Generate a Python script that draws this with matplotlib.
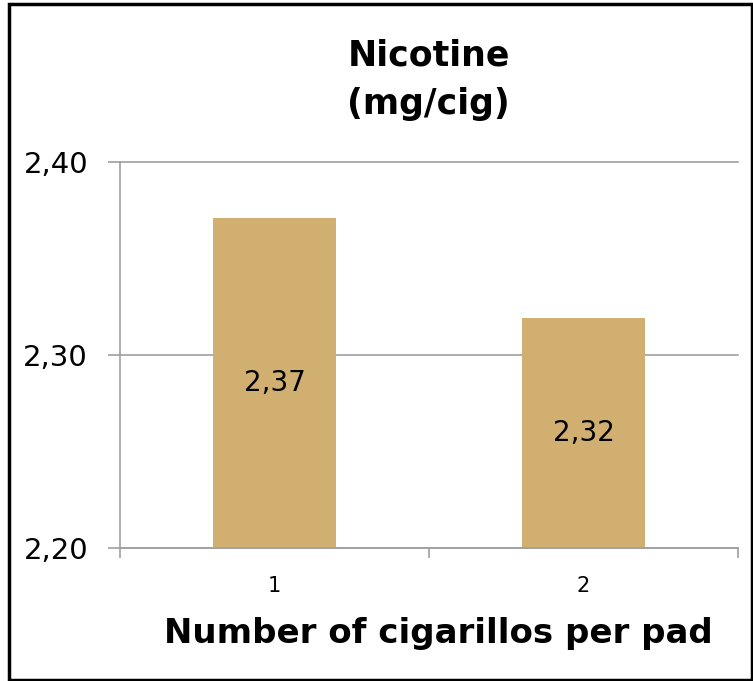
import numpy as np
import matplotlib.pyplot as plt
from matplotlib.patches import Rectangle

# data
categories = ['1', '2']
nicotine = [2.371, 2.319]
value_labels = ['2,37', '2,32']
yticks = [2.20, 2.30, 2.40]
ytick_labels = ['2,20', '2,30', '2,40']

bar_color = '#D0AF70'
grey = '#A0A0A0'

plt.rcParams['font.family'] = ['DejaVu Sans']

fig = plt.figure(figsize=(7.53, 6.81), dpi=100)
ax = fig.add_axes([0.1594, 0.1953, 0.8206, 0.5668])

x = np.arange(1, len(categories) + 1)
ax.bar(x, nicotine, width=0.4, color=bar_color, zorder=2)

# value labels centred in the visible part of each bar
for xi, v, lab in zip(x, nicotine, value_labels):
    ax.text(xi, (v + yticks[0]) / 2, lab, ha='center', va='center',
            fontsize=20, color='black', zorder=3)

ax.set_xlim(0.5, len(categories) + 0.5)
ax.set_ylim(yticks[0], yticks[-1])
ax.set_yticks(yticks)
ax.set_yticklabels(ytick_labels, fontsize=21)
ax.yaxis.grid(True, color=grey, linewidth=1.2, zorder=0)
for gl in ax.get_ygridlines():
    gl.set_clip_on(False)
ax.set_axisbelow(True)

# category boundaries as major ticks, labels on minor ticks
ax.set_xticks(np.arange(0.5, len(categories) + 1, 1.0))
ax.set_xticklabels([])
ax.set_xticks(x, minor=True)
ax.set_xticklabels(categories, minor=True, fontsize=15)
ax.tick_params(axis='x', which='minor', length=0, pad=20)
ax.tick_params(axis='x', which='major', length=7, color=grey, width=1.2)
ax.tick_params(axis='y', length=9, color=grey, width=1.2, pad=14)

for s in ['top', 'right']:
    ax.spines[s].set_visible(False)
for s in ['left', 'bottom']:
    ax.spines[s].set_color(grey)
    ax.spines[s].set_linewidth(1.2)

ax.set_xlabel('Number of cigarillos per pad', fontsize=24.5, fontweight='bold',
              labelpad=15)
ax.xaxis.label.set_x(0.515)

fig.text(0.569, 0.883, 'Nicotine\n(mg/cig)', ha='center', va='center',
         fontsize=25, fontweight='bold', linespacing=1.55)

# outer chart border
fig.patches.append(Rectangle((9 / 753, 0.0015), 743 / 753, 1 - 4 / 681 - 0.0015,
                             transform=fig.transFigure, fill=False,
                             edgecolor='black', linewidth=2.5))

fig.savefig('out.png', dpi=100)
